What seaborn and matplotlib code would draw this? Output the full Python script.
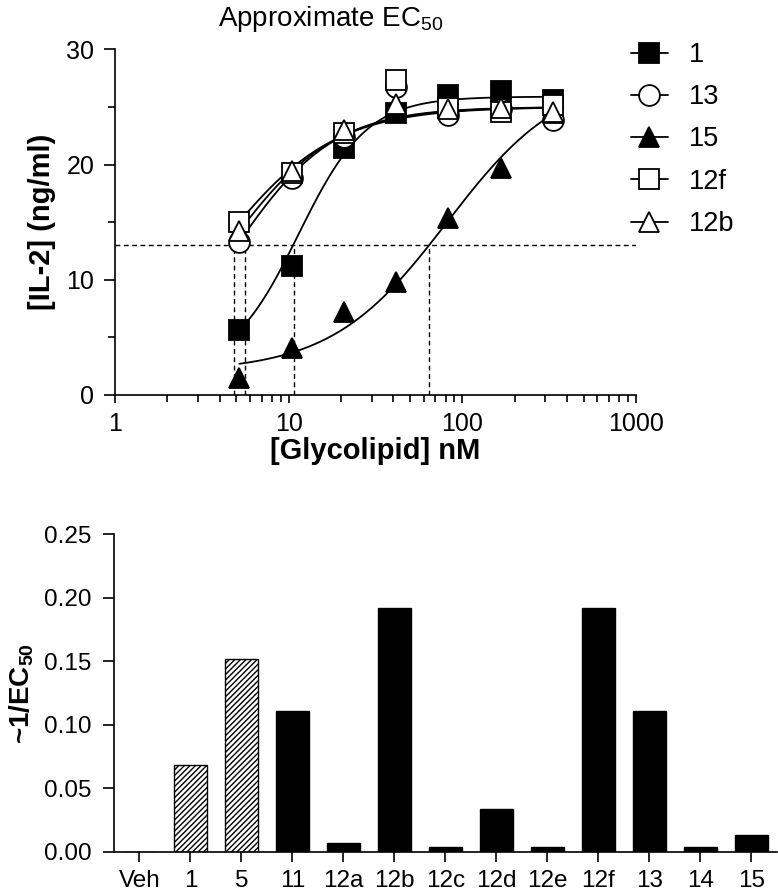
import numpy as np
import pandas as pd
import matplotlib
matplotlib.use("Agg")
import matplotlib.pyplot as plt
from matplotlib.lines import Line2D
import seaborn as sns

# ------------------------------------------------------------
# Données : courbes dose-réponse IL-2
# ------------------------------------------------------------

conc = [5.2, 10.4, 20.8, 41.5, 83, 166, 332]

il2_1 = [5.6, 11.2, 21.4, 24.5, 26.0, 26.4, 25.6]
il2_13 = [13.3, 18.8, 22.4, 26.7, 24.3, 24.8, 23.9]
il2_15 = [1.45, 4.1, 7.2, 9.8, 15.4, 19.7, 24.5]
il2_12f = [15.0, 19.3, 22.7, 27.3, 24.9, 24.6, 25.2]
il2_12b = [14.2, 19.4, 23.0, 25.3, 24.8, 24.9, 24.6]

series_names = ["1", "13", "15", "12f", "12b"]
series_values = [il2_1, il2_13, il2_15, il2_12f, il2_12b]

# paramètres des ajustements sigmoïdes (bas, haut, EC50, pente)
fit_bottom = [2.0, 0.0, 2.0, 0.0, 0.0]
fit_top = [25.9, 25.0, 28.0, 25.0, 25.0]
fit_ec50 = [11.4, 4.77, 81.7, 3.8, 4.27]
fit_hill = [2.2, 1.5, 1.3, 1.3, 1.4]

# niveau de demi-réponse et EC50 approximatives (lignes pointillées)
half_level = 13
ec50_marks = [4.82, 5.61, 10.8, 64.3]

# ------------------------------------------------------------
# Données : diagramme en barres ~1/EC50
# ------------------------------------------------------------

compounds = ["Veh", "1", "5", "11", "12a", "12b", "12c", "12d", "12e", "12f", "13", "14", "15"]
inv_ec50 = [0.0, 0.068, 0.152, 0.111, 0.007, 0.192, 0.004, 0.034, 0.004, 0.192, 0.111, 0.004, 0.013]
hatched = ["1", "5"]

# ------------------------------------------------------------
# Style
# ------------------------------------------------------------

sns.set_theme(style="ticks")
plt.rcParams["font.family"] = ["Liberation Sans", "DejaVu Sans"]
plt.rcParams["mathtext.fontset"] = "custom"
plt.rcParams["mathtext.rm"] = "Liberation Sans"
plt.rcParams["mathtext.bf"] = "Liberation Sans:bold"
plt.rcParams["hatch.linewidth"] = 1.0
plt.rcParams["axes.linewidth"] = 1.2
plt.rcParams["text.color"] = "black"
plt.rcParams["axes.labelcolor"] = "black"

fig = plt.figure(figsize=(7.78, 8.96), dpi=100)
ax1 = fig.add_axes([0.1478, 0.5592, 0.6697, 0.3857])
ax2 = fig.add_axes([0.1465, 0.0494, 0.8522, 0.3543])

markers = ["s", "o", "^", "s", "^"]
faces = ["black", "white", "black", "white", "white"]
msize = 15

# ------------------------------------------------------------
# 1. Courbes dose-réponse
# ------------------------------------------------------------

ax1.axhline(half_level, color="black", lw=1.0, ls=(0, (3.5, 2.5)), zorder=1)
for xm in ec50_marks:
    ax1.plot([xm, xm], [0, half_level], color="black", lw=1.0,
             ls=(0, (3.5, 2.5)), zorder=1)

for i, name in enumerate(series_names):
    xfit = np.logspace(np.log10(conc[0]), np.log10(conc[-1]), 200)
    yfit = fit_bottom[i] + (fit_top[i] - fit_bottom[i]) / (1 + (fit_ec50[i] / xfit) ** fit_hill[i])
    sns.lineplot(x=xfit, y=yfit, ax=ax1, color="black", lw=1.3, zorder=2)

for i, name in enumerate(series_names):
    ax1.plot(conc, series_values[i], ls="none", marker=markers[i], markersize=msize,
             markerfacecolor=faces[i], markeredgecolor="black", markeredgewidth=1.3,
             zorder=3 + i)

ax1.set_xscale("log")
ax1.set_xlim(1, 1000)
ax1.set_ylim(0, 30)
ax1.set_yticks([0, 10, 20, 30])
ax1.set_yticks([5, 15, 25], minor=True)
ax1.set_xticks([1, 10, 100, 1000])
ax1.set_xticklabels(["1", "10", "100", "1000"])
ax1.tick_params(axis="both", which="major", direction="out", length=8, width=1.2,
                labelsize=18, color="black", labelcolor="black")
ax1.tick_params(axis="y", which="major", pad=7)
ax1.tick_params(axis="y", which="minor", direction="out", length=5, width=1.2, color="black")
ax1.tick_params(axis="x", which="major", length=6, pad=6)
ax1.tick_params(axis="x", which="minor", direction="out", length=5, width=1.2, color="black")
ax1.set_xlabel("[Glycolipid] nM", fontsize=21, fontweight="bold", labelpad=1)
ax1.set_ylabel("[IL-2] (ng/ml)", fontsize=21, fontweight="bold", labelpad=7)
for s in ["left", "bottom"]:
    ax1.spines[s].set_color("black")
sns.despine(ax=ax1)

fig.text(0.425, 1 - 19 / 896, "Approximate EC$_{50}$", fontsize=20,
         ha="center", va="center")

handles = [Line2D([], [], color="black", lw=1.3, marker=markers[i], markersize=msize,
                  markerfacecolor=faces[i], markeredgecolor="black", markeredgewidth=1.3)
           for i in range(len(series_names))]
fig.legend(handles, series_names, loc="upper left", bbox_to_anchor=(631 / 778, 1 - 42 / 896),
           frameon=False, fontsize=19.5, handlelength=1.35, handletextpad=0.78,
           labelspacing=0.6, borderpad=0, borderaxespad=0)

# ------------------------------------------------------------
# 2. Diagramme en barres
# ------------------------------------------------------------

df_bar = pd.DataFrame({"compound": compounds, "value": inv_ec50})
sns.barplot(data=df_bar, x="compound", y="value", ax=ax2, color="black",
            width=0.66, saturation=1, edgecolor="black", linewidth=1.0)

for patch, comp in zip(ax2.patches, compounds):
    if comp in hatched:
        patch.set_facecolor("white")
        patch.set_hatch("//////")
        patch.set_edgecolor("black")

ax2.set_xlim(-0.5, 12.5)
ax2.set_ylim(0, 0.25)
ax2.set_yticks(np.arange(0, 0.26, 0.05))
ax2.set_yticklabels([f"{v:.2f}" for v in np.arange(0, 0.26, 0.05)])
ax2.tick_params(axis="both", which="major", direction="out", length=8, width=1.2,
                labelsize=17.5, color="black", labelcolor="black")
ax2.tick_params(axis="y", pad=8)
ax2.tick_params(axis="x", length=7, pad=6)
ax2.set_xlabel("")
ax2.set_ylabel("~1/EC$_\\mathbf{50}$", fontsize=20, fontweight="bold", labelpad=6)
for s in ["left", "bottom"]:
    ax2.spines[s].set_color("black")
sns.despine(ax=ax2)

fig.savefig("out.png", dpi=100)
